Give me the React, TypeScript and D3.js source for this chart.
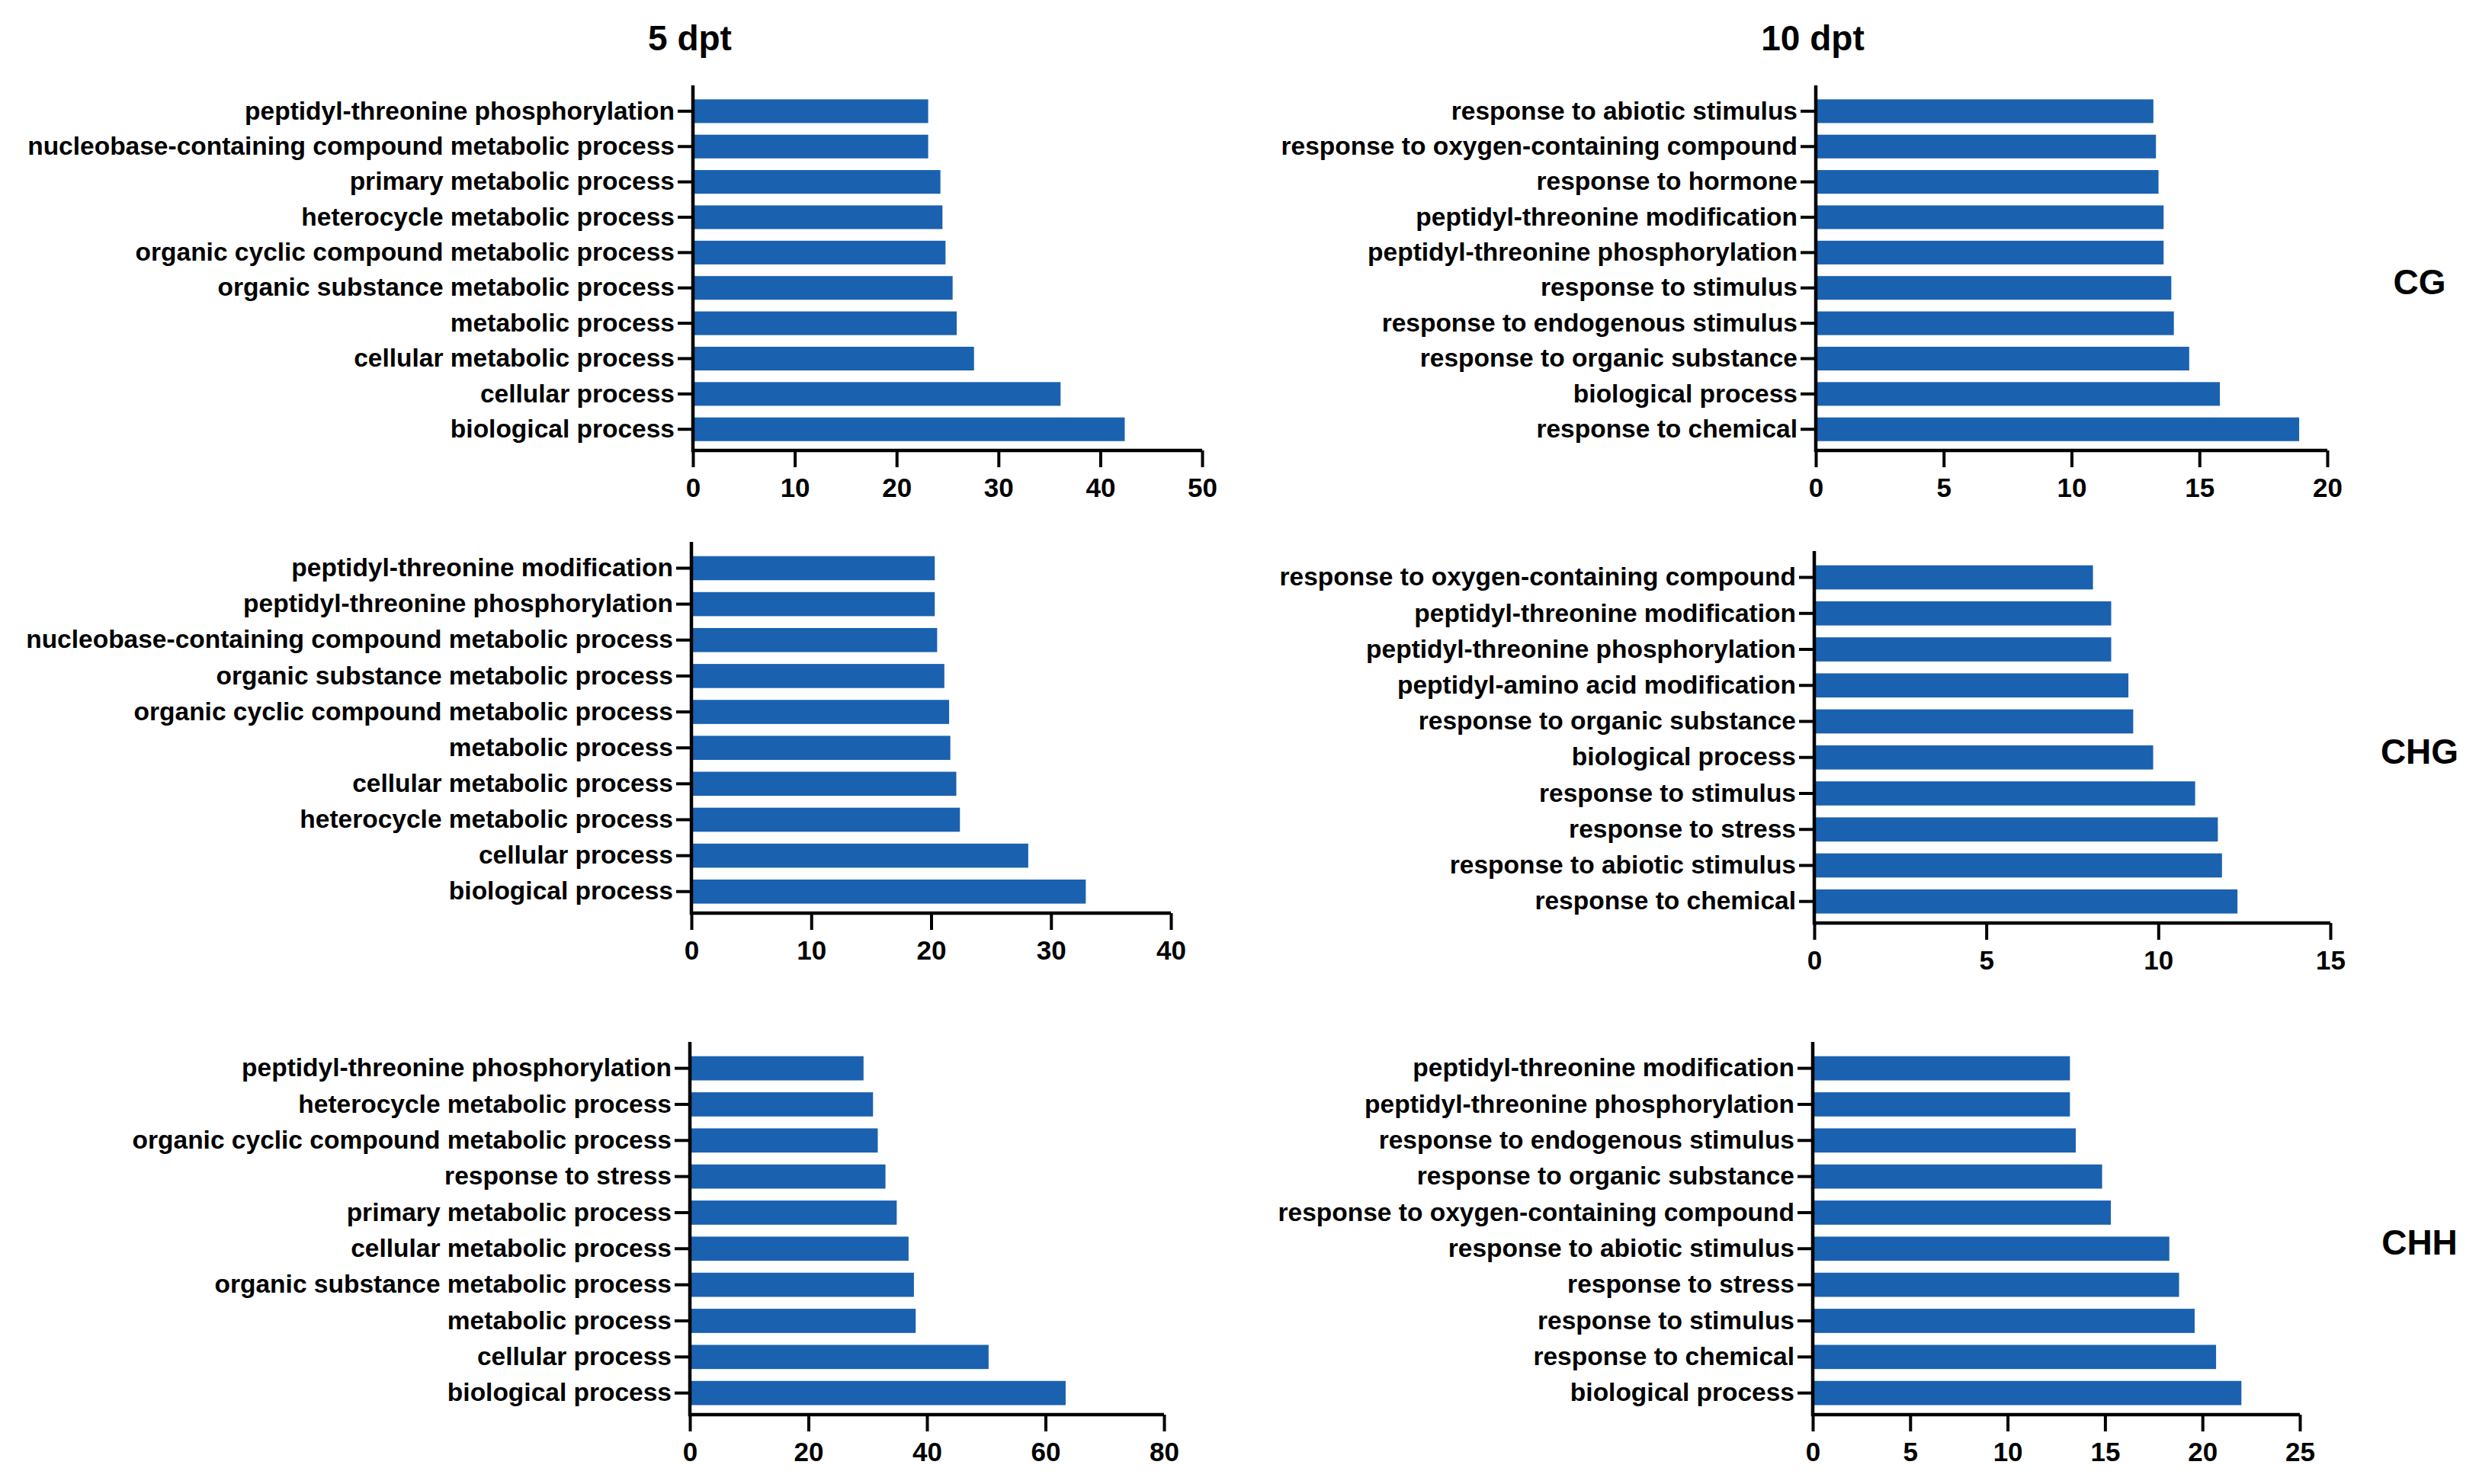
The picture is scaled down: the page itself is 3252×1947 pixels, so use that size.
import * as React from "react";
import * as d3 from "d3";

// 5 dpt / CG
const cg5Terms = [
    "peptidyl-threonine phosphorylation",
    "nucleobase-containing compound metabolic process",
    "primary metabolic process",
    "heterocycle metabolic process",
    "organic cyclic compound metabolic process",
    "organic substance metabolic process",
    "metabolic process",
    "cellular metabolic process",
    "cellular process",
    "biological process",
];
const cg5Values = [23.1, 23.1, 24.3, 24.5, 24.8, 25.5, 25.9, 27.6, 36.1, 42.4];

// 10 dpt / CG
const cg10Terms = [
    "response to abiotic stimulus",
    "response to oxygen-containing compound",
    "response to hormone",
    "peptidyl-threonine modification",
    "peptidyl-threonine phosphorylation",
    "response to stimulus",
    "response to endogenous stimulus",
    "response to organic substance",
    "biological process",
    "response to chemical",
];
const cg10Values = [13.2, 13.3, 13.4, 13.6, 13.6, 13.9, 14.0, 14.6, 15.8, 18.9];

// 5 dpt / CHG
const chg5Terms = [
    "peptidyl-threonine modification",
    "peptidyl-threonine phosphorylation",
    "nucleobase-containing compound metabolic process",
    "organic substance metabolic process",
    "organic cyclic compound metabolic process",
    "metabolic process",
    "cellular metabolic process",
    "heterocycle metabolic process",
    "cellular process",
    "biological process",
];
const chg5Values = [20.3, 20.3, 20.5, 21.1, 21.5, 21.6, 22.1, 22.4, 28.1, 32.9];

// 10 dpt / CHG
const chg10Terms = [
    "response to oxygen-containing compound",
    "peptidyl-threonine modification",
    "peptidyl-threonine phosphorylation",
    "peptidyl-amino acid modification",
    "response to organic substance",
    "biological process",
    "response to stimulus",
    "response to stress",
    "response to abiotic stimulus",
    "response to chemical",
];
const chg10Values = [8.1, 8.63, 8.63, 9.13, 9.27, 9.85, 11.07, 11.73, 11.85, 12.3];

// 5 dpt / CHH
const chh5Terms = [
    "peptidyl-threonine phosphorylation",
    "heterocycle metabolic process",
    "organic cyclic compound metabolic process",
    "response to stress",
    "primary metabolic process",
    "cellular metabolic process",
    "organic substance metabolic process",
    "metabolic process",
    "cellular process",
    "biological process",
];
const chh5Values = [29.3, 30.9, 31.7, 33.0, 34.9, 36.9, 37.8, 38.1, 50.4, 63.4];

// 10 dpt / CHH
const chh10Terms = [
    "peptidyl-threonine modification",
    "peptidyl-threonine phosphorylation",
    "response to endogenous stimulus",
    "response to organic substance",
    "response to oxygen-containing compound",
    "response to abiotic stimulus",
    "response to stress",
    "response to stimulus",
    "response to chemical",
    "biological process",
];
const chh10Values = [13.2, 13.2, 13.5, 14.85, 15.3, 18.3, 18.8, 19.6, 20.7, 22.0];

const columnTitles = ["5 dpt", "10 dpt"];
const rowLabels = ["CG", "CHG", "CHH"];

interface Panel {
    terms: string[];
    values: number[];
    max: number;
    step: number;
    x0: number;
    x1: number;
    top: number;
    bottom: number;
}

const panels: Panel[] = [
    { terms: cg5Terms, values: cg5Values, max: 50, step: 10, x0: 909, x1: 1577, top: 112, bottom: 591 },
    { terms: cg10Terms, values: cg10Values, max: 20, step: 5, x0: 2382, x1: 3053, top: 112, bottom: 591 },
    { terms: chg5Terms, values: chg5Values, max: 40, step: 10, x0: 907, x1: 1536, top: 711, bottom: 1198 },
    { terms: chg10Terms, values: chg10Values, max: 15, step: 5, x0: 2380, x1: 3057, top: 723, bottom: 1211 },
    { terms: chh5Terms, values: chh5Values, max: 80, step: 20, x0: 905, x1: 1527, top: 1367, bottom: 1856 },
    { terms: chh10Terms, values: chh10Values, max: 25, step: 5, x0: 2378, x1: 3017, top: 1367, bottom: 1856 },
];

const FONT = "'Liberation Sans', Arial, sans-serif";
const BAR = "#1a61b0";

const App: React.FC = () => {
    const svgRef = React.useRef<SVGSVGElement | null>(null);

    React.useEffect(() => {
        if (!svgRef.current) return;
        const svg = d3.select(svgRef.current);
        svg.selectAll("*").remove();

        panels.forEach(p => {
            const x = d3.scaleLinear().domain([0, p.max]).range([p.x0, p.x1]);
            const y = d3.scaleBand()
                .domain(p.terms)
                .range([p.top, p.bottom])
                .paddingInner(0.33)
                .paddingOuter(0.33)
                .align(0.6);

            const g = svg.append("g");

            g.selectAll(".bar")
                .data(p.terms)
                .enter().append("rect")
                .attr("class", "bar")
                .attr("x", x(0))
                .attr("y", d => y(d)!)
                .attr("width", (d, i) => x(p.values[i]) - x(0))
                .attr("height", y.bandwidth())
                .attr("fill", BAR);

            const xAxis = g.append("g")
                .attr("transform", `translate(0,${p.bottom})`)
                .call(d3.axisBottom(x)
                    .tickValues(d3.range(0, p.max + 0.001, p.step))
                    .tickFormat(d3.format("d"))
                    .tickSize(22)
                    .tickSizeOuter(0)
                    .tickPadding(14));

            const yAxis = g.append("g")
                .attr("transform", `translate(${p.x0},0)`)
                .call(d3.axisLeft(y).tickSize(20).tickSizeOuter(0).tickPadding(4));

            [xAxis, yAxis].forEach(a => {
                a.select(".domain").attr("stroke", "#000").attr("stroke-width", 4.5);
                a.selectAll(".tick line").attr("stroke", "#000").attr("stroke-width", 4);
                a.selectAll(".tick text")
                    .attr("fill", "#000")
                    .style("font-family", FONT)
                    .style("font-weight", "bold");
            });
            xAxis.selectAll(".tick text").style("font-size", "35px");
            yAxis.selectAll(".tick text").style("font-size", "33.5px");

            // y axis line spans the whole panel, x axis line from the y axis to the last tick
            yAxis.select(".domain").attr("d", `M0,${p.top}V${p.bottom + 2}`);
            xAxis.select(".domain").attr("d", `M0,0H${p.x1 - p.x0 + 2}`)
                .attr("transform", `translate(${p.x0 - 2},0)`);
        });

        svg.selectAll(".col-title")
            .data(columnTitles)
            .enter().append("text")
            .attr("class", "col-title")
            .attr("x", (d, i) => panels[i].x0 - 4)
            .attr("y", 66)
            .attr("text-anchor", "middle")
            .style("font-family", FONT)
            .style("font-weight", "bold")
            .style("font-size", "46px")
            .text(d => d);

        svg.selectAll(".row-label")
            .data(rowLabels)
            .enter().append("text")
            .attr("class", "row-label")
            .attr("x", 3174)
            .attr("y", (d, i) => {
                const p = panels[i * 2 + 1];
                return (p.top + p.bottom) / 2 + 18;
            })
            .attr("dy", "0.36em")
            .attr("text-anchor", "middle")
            .style("font-family", FONT)
            .style("font-weight", "bold")
            .style("font-size", "46px")
            .text(d => d);
    }, []);

    return (
        <svg
            ref={svgRef}
            width={3252}
            height={1947}
            style={{ position: "absolute", left: 0, top: 0, background: "#fff" }}
        />
    );
};

export default App;
